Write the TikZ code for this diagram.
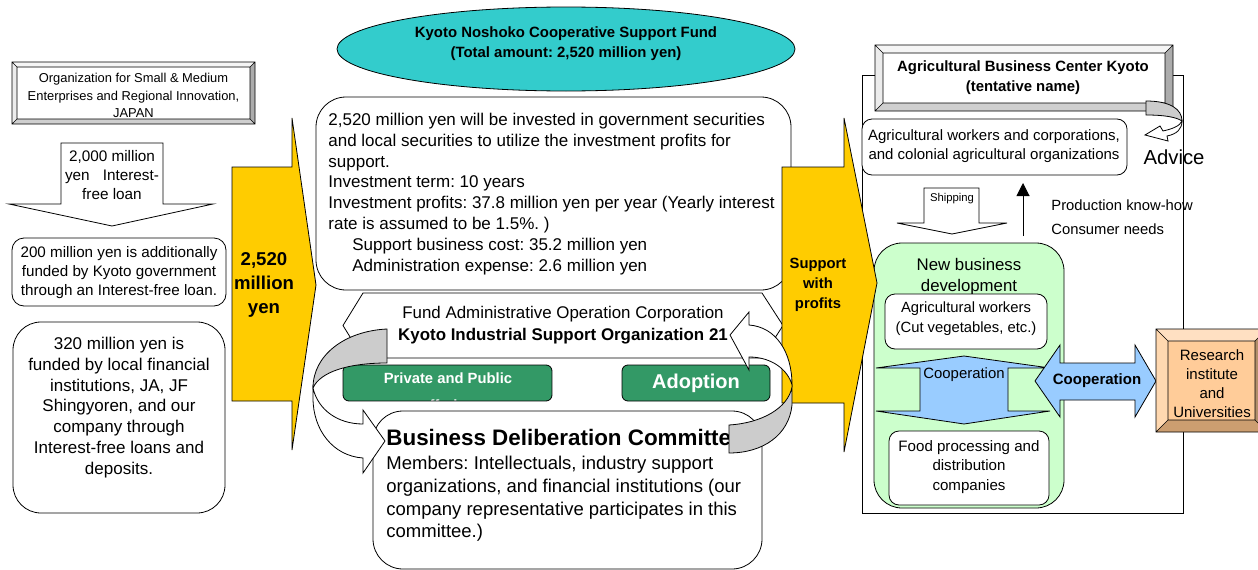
\documentclass[tikz,border=0pt]{standalone}
\usepackage{fontspec}
\setmainfont{Liberation Sans}
\usetikzlibrary{arrows.meta,shapes.geometric}
\frenchspacing

\definecolor{fundteal}{HTML}{33CCCC}
\definecolor{flowyellow}{HTML}{FFCC00}
\definecolor{btngreen}{HTML}{339966}
\definecolor{newbizgreen}{HTML}{CCFFCC}
\definecolor{coopblue}{HTML}{99CCFF}
\colorlet{greyface}{white}
\colorlet{greytop}{gray!8}
\colorlet{greyleft}{gray!15}
\colorlet{greyright}{gray!65}
\colorlet{greybottom}{gray!38}
\definecolor{tanface}{HTML}{FFCC99}
\definecolor{tantop}{HTML}{FFE0C2}
\definecolor{tanleft}{HTML}{FFD8B0}
\definecolor{tanright}{HTML}{B38F6B}
\definecolor{tanbottom}{HTML}{CC9E70}

\newcommand{\fs}[2]{\fontsize{#1}{#2}\selectfont}
% x1 y1 x2 y2 depth colour-prefix
\newcommand{\bevelbox}[6]{%
  \fill[#6face] (#1,#2) rectangle (#3,#4);
  \fill[#6top] (#1,#2) -- (#3,#2) -- (#3-#5,#2+#5) -- (#1+#5,#2+#5) -- cycle;
  \fill[#6left] (#1,#2) -- (#1+#5,#2+#5) -- (#1+#5,#4-#5) -- (#1,#4) -- cycle;
  \fill[#6right] (#3,#2) -- (#3-#5,#2+#5) -- (#3-#5,#4-#5) -- (#3,#4) -- cycle;
  \fill[#6bottom] (#1,#4) -- (#1+#5,#4-#5) -- (#3-#5,#4-#5) -- (#3,#4) -- cycle;
  \draw[line width=0.6pt] (#1,#2) rectangle (#3,#4)
    (#1+#5,#2+#5) rectangle (#3-#5,#4-#5)
    (#1,#2) -- (#1+#5,#2+#5) (#3,#2) -- (#3-#5,#2+#5)
    (#1,#4) -- (#1+#5,#4-#5) (#3,#4) -- (#3-#5,#4-#5);
}

\begin{document}
\begin{tikzpicture}[x=1pt, y=-1pt, line width=0.8pt, line join=miter,
  txt/.style={inner sep=0pt, align=center},
  panel/.style={draw, fill=white, rounded corners=#1}, panel/.default=10,
  blockarrow/.style={draw, fill=#1}, blockarrow/.default=white,
  flowarrow/.style={draw, fill=flowyellow},
  twist/.style={draw, fill=gray!40},
  btn/.style={draw, fill=btngreen, rounded corners=6}]
  \useasboundingbox (0,0) rectangle (1258,570);

  % money sources
  \bevelbox{12}{62}{255}{124}{5}{grey}
  \node[txt, font=\fs{12.9}{17.5}] (orgjp) at (133.5,95.5) {Organization for Small \& Medium\\Enterprises and Regional Innovation,\\JAPAN};
  \draw[blockarrow] (61,143) -- (163,143) -- (163,204) -- (213,204) -- (112,226) -- (9,204) -- (61,204) -- cycle;
  \node[txt, font=\fs{15.3}{19}] (jploan) at (112,175) {2,000 million\\\makebox[94pt]{yen\hfill Interest-}\\free loan};
  \draw[panel=12] (12,238) rectangle (226,306);
  \node[txt, font=\fs{15.2}{19}] (kyotoloan) at (119,273) {200 million yen is additionally\\funded by Kyoto government\\through an Interest-free loan.};
  \draw[panel=28] (13,322) rectangle (225,513);
  \node[txt, font=\fs{17}{20.8}] (localloan) at (119,407.5) {320 million yen is\\funded by local financial\\institutions, JA, JF\\Shingyoren, and our\\company through\\Interest-free loans and\\deposits.};
  \draw[flowarrow] (232,167) -- (292,167) -- (292,118) -- (316,285) -- (292,450) -- (292,401) -- (232,401) -- cycle;
  \node[txt, font=\fs{18.6}{24}\bfseries] (fundin) at (264,285) {2,520\\million\\yen};

  % fund
  \node[ellipse, draw, fill=fundteal, minimum width=458, minimum height=84] (fundoval) at (566,49) {};
  \node[txt, font=\fs{14.9}{20}\bfseries] (fundname) at (566,44) {Kyoto Noshoko Cooperative Support Fund\\(Total amount: 2,520 million yen)};
  \draw[panel=30] (316,97) rectangle (791,290);
  \node[txt, align=left, anchor=west, font=\fs{17}{20.86}] (invest) at (328,194) {2,520 million yen will be invested in government securities\\and local securities to utilize the investment profits for\\support.\\Investment term: 10 years\\Investment profits: 37.8 million yen per year (Yearly interest\\rate is assumed to be 1.5\%. )\\\hspace*{24pt}Support business cost: 35.2 million yen\\\hspace*{24pt}Administration expense: 2.6 million yen};

  \draw[fill=white] (363,293) -- (762,293) -- (783,325.5) -- (762,358) -- (363,358) -- (343,325.5) -- cycle;
  \node[txt, font=\fs{16.9}{22}] (operator) at (563,325) {Fund Administrative Operation Corporation\\\bfseries Kyoto Industrial Support Organization 21};
  \begin{scope}
    \clip[rounded corners=6] (343,365) rectangle (552,401);
    \fill[btngreen] (343,365) rectangle (552,401);
    \node[txt, text=white, font=\fs{14.8}{27}\bfseries] (offering) at (448,393.5) {Private and Public\\offering};
  \end{scope}
  \draw[rounded corners=6] (343,365) rectangle (552,401);
  \draw[btn] (622,365) rectangle (770,401);
  \node[txt, text=white, font=\fs{20}{24}\bfseries] (adoption) at (696,383) {Adoption};
  \draw[panel=30] (373,411) rectangle (762,569);
  \node[txt, anchor=west, font=\fs{22.4}{24}\bfseries] (committee) at (386,437) {Business Deliberation Committee};
  \node[txt, align=left, anchor=west, font=\fs{18.5}{22.7}] (members) at (386,499) {Members: Intellectuals, industry support\\organizations, and financial institutions (our\\company representative participates in this\\committee.)};

  % support side
  \draw[fill=white] (862,75) rectangle (1183,513);
  \bevelbox{875}{45}{1173}{111}{8}{grey}
  \node[txt, font=\fs{14.9}{20}\bfseries] (agcenter) at (1023,78) {Agricultural Business Center Kyoto\\(tentative name)};
  \draw[panel] (862,119) rectangle (1127,175);
  \node[txt, font=\fs{15}{19}] (farmorgs) at (994,146.5) {Agricultural workers and corporations,\\and colonial agricultural organizations};
  \draw[twist] (1146,101) .. controls (1170,101) and (1182,109) .. (1182,121) .. controls (1176,117) and (1164,115) .. (1146,115) -- cycle;
  \draw[blockarrow] (1182,121) .. controls (1182,129) and (1177,134) .. (1167,136) -- (1168,141) -- (1145,135) -- (1160,126) -- (1163,131) .. controls (1172,129) and (1180,126) .. (1182,121) -- cycle;
  \node[txt, font=\fs{20.3}{22}] (advice) at (1174,157) {Advice};
  \draw[blockarrow] (924,188) -- (979,188) -- (979,223) -- (1007,223) -- (952,234) -- (897,223) -- (924,223) -- cycle;
  \node[txt, font=\fs{11.3}{13}] (shipping) at (952,199) {Shipping};
  \coordinate (needsfoot) at (1023,236);
  \coordinate (needstip) at (1023,183);
  \draw[line width=1pt, -{Triangle[length=13pt, width=13pt]}] (needsfoot) -- (needstip);
  \node[txt, align=left, anchor=west, font=\fs{14.8}{24}] (knowhow) at (1051,217) {Production know-how\\Consumer needs};

  \draw[panel=28, fill=newbizgreen] (874,243) rectangle (1064,508);
  \node[txt, font=\fs{16.8}{21}] (newbiz) at (969,276.5) {New business\\development};
  \draw[panel] (885,294) rectangle (1047,349);
  \node[txt, font=\fs{14.8}{20}] (farmers) at (966,319) {Agricultural workers\\(Cut vegetables, etc.)};
  \draw[blockarrow=coopblue] (964,356) -- (1050,368) -- (1008,368) -- (1008,411) -- (1050,411) -- (964,424) -- (876,411) -- (920,411) -- (920,368) -- (876,368) -- cycle;
  \node[txt, font=\fs{14.9}{16}] (coopinner) at (964,375) {Cooperation};
  \draw[panel] (889,431) rectangle (1049,505);
  \node[txt, font=\fs{15.1}{19.5}] (foodcos) at (969,467) {Food processing and\\distribution\\companies};

  \draw[flowarrow] (782,167) -- (844,167) -- (844,118) -- (877,283) -- (844,452) -- (844,403) -- (782,403) -- cycle;
  \node[txt, font=\fs{14.8}{20}\bfseries] (support) at (818,285) {Support\\with\\profits};
  \draw[blockarrow=coopblue] (1035,381) -- (1060,345) -- (1060,363) -- (1135,363) -- (1135,345) -- (1156,381) -- (1135,417) -- (1135,400) -- (1060,400) -- (1060,417) -- cycle;
  \node[txt, font=\fs{15}{16}\bfseries] (coopouter) at (1097,381) {Cooperation};
  \bevelbox{1156}{329}{1267}{432}{12}{tan}
  \node[txt, font=\fs{15}{19}] (research) at (1212,383.5) {Research\\institute\\and\\Universities};

  % deliberation loop
  \draw[twist] (387,329) .. controls (345,331) and (313,355) .. (313,388) .. controls (320,372) and (348,363) .. (387,363) -- cycle;
  \draw[blockarrow] (313,388) .. controls (318,410) and (338,424) .. (363,424) -- (363,410) -- (385,441) -- (363,473) -- (363,458) .. controls (333,456) and (313,430) .. (313,398) -- cycle;
  \draw[blockarrow] (749,325) .. controls (776,327) and (792,352) .. (792,385) .. controls (788,370) and (772,357) .. (749,357) -- (749,370) -- (730,335) -- (749,312) -- cycle;
  \draw[twist] (729,425) .. controls (762,423) and (788,408) .. (792,387) -- (792,405) .. controls (789,435) and (763,453) .. (729,453) -- cycle;
\end{tikzpicture}
\end{document}
